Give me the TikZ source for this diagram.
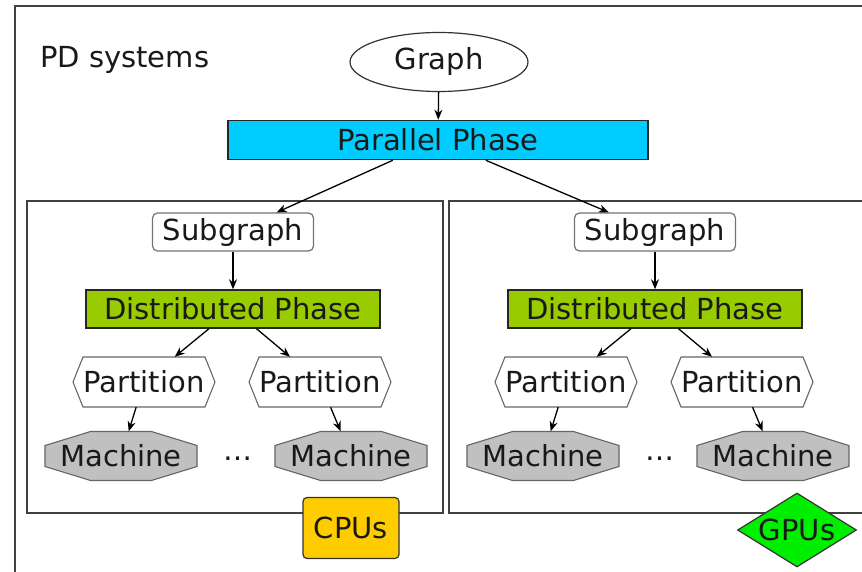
\documentclass[tikz,border=0pt]{standalone}
\usepackage{fontspec}
\setmainfont{DejaVu Sans}
\usetikzlibrary{arrows.meta,shapes.geometric}

\definecolor{phasecyan}{HTML}{00CCFF}
\definecolor{phasegreen}{HTML}{99CC00}
\definecolor{machinegray}{HTML}{C0C0C0}
\definecolor{cpuyellow}{HTML}{FFCC00}
\definecolor{gpugreen}{HTML}{00EE00}

\begin{document}
\begin{tikzpicture}[x=1pt, y=-1pt,
  every node/.style={font=\fontsize{29}{34}\selectfont, inner sep=0pt, text=black!90},
  edge/.style={-{Stealth[length=10pt,width=8pt]}, line width=1.3pt},
  frame/.style={draw=black!75, line width=1.6pt},
  phase/.style={draw=black!85, line width=1.5pt, minimum height=38pt},
  subgraphbox/.style={draw=black!55, line width=1.2pt, rounded corners=5pt,
    minimum width=161pt, minimum height=38pt},
  partition/.style={minimum width=142pt, minimum height=50pt},
  machine/.style={minimum width=152pt, minimum height=49pt},
  outline/.style={draw=black!60, line width=1.1pt}]
\useasboundingbox (0,0) rectangle (862,572);
\clip (0,0) rectangle (862,572);
\fill[white] (0,0) rectangle (862,572);

\draw[frame] (15,6) rectangle (880,590);
\node[anchor=west] (title) at (40,60) {PD systems};

\node[draw=black!80, line width=1.2pt, ellipse, minimum width=178pt, minimum height=59pt] (graph) at (439,62) {Graph};
\node[phase, fill=phasecyan, minimum width=420pt, minimum height=39pt] (par) at (438,140) {Parallel Phase};
\draw[edge] (graph) -- (par);

% one panel per processor type, same layout shifted right
\foreach \s/\dx in {l/0, r/422} {
  \draw[frame] (27+\dx,201) rectangle (443+\dx,513);
  \node[subgraphbox, fill=white] (sub\s) at (233+\dx,232) {Subgraph};
  \node[phase, fill=phasegreen, minimum width=294pt] (dist\s) at (233+\dx,309) {Distributed Phase};
  \draw[edge] (par) -- (sub\s);
  \draw[edge] (sub\s) -- (dist\s);
  % partitions (hexagons) and machines (octagons)
  \foreach \n/\px/\mx in {a/144/121, b/320/351} {
    \draw[outline, fill=white] (\px+\dx,382) ++(-61,-25) -- ++(122,0) -- ++(10,25)
      -- ++(-10,25) -- ++(-122,0) -- ++(-10,-25) -- cycle;
    \draw[outline, fill=machinegray] (\mx+\dx,456) ++(-30.5,-24.5) -- ++(61,0) -- ++(45.5,14)
      -- ++(0,21) -- ++(-45.5,14) -- ++(-61,0) -- ++(-45.5,-14) -- ++(0,-21) -- cycle;
    \node[partition] (p\n\s) at (\px+\dx,382) {Partition};
    \node[machine] (m\n\s) at (\mx+\dx,456) {Machine};
    \draw[edge] (dist\s) -- (p\n\s);
    \draw[edge] (p\n\s) -- (m\n\s);
  }
  \node (dots\s) at (238+\dx,459) {\dots};
}

\node[draw=black!80, line width=1.2pt, fill=cpuyellow, rounded corners=4pt,
  minimum width=96pt, minimum height=61pt] (cpu) at (351,528) {CPUs};
\node[draw=black!80, line width=1.2pt, diamond, fill=gpugreen, aspect=1.6,
  minimum width=119pt, minimum height=74pt] (gpu) at (797,530) {GPUs};
\end{tikzpicture}
\end{document}
